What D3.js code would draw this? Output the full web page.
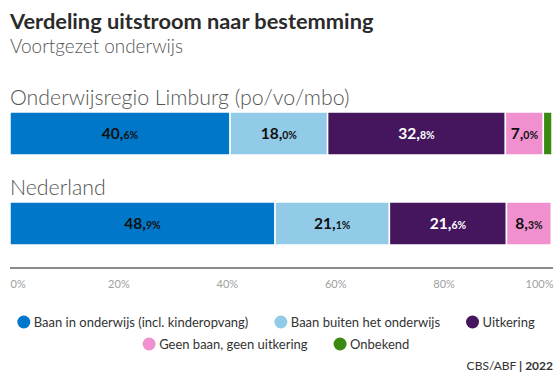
<!DOCTYPE html>
<html>
<head>
<meta charset="utf-8">
<script src="https://cdn.jsdelivr.net/npm/d3@7"></script>
<style>
  html, body { margin: 0; padding: 0; background: #fff; }
  svg { display: block; font-family: Lato, "Open Sans", sans-serif; }
</style>
</head>
<body>
<svg id="chart" width="555" height="373"></svg>
<script>
// Categories (destinations) and their colours
const categories = [
  "Baan in onderwijs (incl. kinderopvang)",
  "Baan buiten het onderwijs",
  "Uitkering",
  "Geen baan, geen uitkering",
  "Onbekend"
];
const colors = ["#0077c8", "#92cbe8", "#45155e", "#f090cf", "#3a8a12"];
const labelColors = ["#111", "#111", "#fff", "#111", "#111"];

// Regions and their shares (%)
const regions = ["Onderwijsregio Limburg (po/vo/mbo)", "Nederland"];
const limburg = [40.6, 18.0, 32.8, 7.0, 1.6];
const nederland = [48.9, 21.1, 21.6, 8.3, 0.1];
const seriesValues = [limburg, nederland];

const tickValues = [0, 20, 40, 60, 80, 100];

const svg = d3.select("#chart");

// Title and subtitle
svg.append("text").attr("x", 10).attr("y", 29)
  .attr("font-size", 21.8).attr("font-weight", 700).attr("fill", "#2b2b2b")
  .text("Verdeling uitstroom naar bestemming");
svg.append("text").attr("x", 10).attr("y", 53)
  .attr("font-size", 18.9).attr("font-weight", 300).attr("fill", "#555")
  .text("Voortgezet onderwijs");

const x = d3.scaleLinear().domain([0, 100]).range([10, 552]);
const barTop = [112, 202];
const barH = 43;

regions.forEach((name, i) => {
  svg.append("text").attr("x", 10).attr("y", barTop[i] - 7)
    .attr("font-size", 21.3).attr("font-weight", 300).attr("fill", "#555")
    .text(name);

  const vals = seriesValues[i];
  const stacked = [];
  let acc = 0;
  vals.forEach((v, k) => { stacked.push({ k, v, x0: acc, x1: acc + v }); acc += v; });

  const g = svg.append("g");
  g.selectAll("rect").data(stacked).join("rect")
    .attr("x", d => x(d.x0))
    .attr("y", barTop[i])
    .attr("width", d => Math.max(0, x(d.x1) - x(d.x0)))
    .attr("height", barH)
    .attr("fill", d => colors[d.k])
    .attr("stroke", "#fff")
    .attr("stroke-width", 1.5);

  const lab = g.selectAll("text").data(stacked.filter(d => d.v >= 5)).join("text")
    .attr("x", d => (x(d.x0) + x(d.x1)) / 2)
    .attr("y", barTop[i] + barH / 2 + 5.5)
    .attr("text-anchor", "middle")
    .attr("font-weight", 700)
    .attr("fill", d => labelColors[d.k]);
  lab.each(function(d) {
    const parts = d.v.toFixed(1).split(".");
    const t = d3.select(this);
    t.append("tspan").attr("font-size", 15.5).text(parts[0] + ",");
    t.append("tspan").attr("font-size", 10.5).text(parts[1] + "%");
  });
});

// Axis
const axisY = 268;
const axis = d3.axisBottom(x).tickValues(tickValues)
  .tickFormat(d => d + "%").tickSize(0).tickPadding(12);
const ax = svg.append("g").attr("transform", `translate(0,${axisY})`).call(axis);
ax.select(".domain").attr("stroke", "#8a8a8a").attr("stroke-width", 2).attr("d", `M10,0H553`);
ax.selectAll(".tick text")
  .attr("font-family", "Lato, sans-serif").attr("font-size", 11)
  .attr("fill", "#a0a0a0")
  .attr("text-anchor", d => d === 0 ? "start" : d === 100 ? "end" : "middle")
  .attr("dx", d => d === 0 ? 0 : d === 100 ? 1 : 0);

// Legend in two centred rows
const legendRows = [[0, 1, 2], [3, 4]];
const legendY = [322, 344];
const r = 6.5, gapDot = 3.5, gapItem = 26, legendCx = 276;
legendRows.forEach((row, ri) => {
  const g = svg.append("g");
  const items = row.map(k => {
    const it = g.append("g");
    it.append("circle").attr("r", r).attr("fill", colors[k]);
    const t = it.append("text").attr("x", r + gapDot).attr("y", 4.5)
      .attr("font-size", 13).attr("fill", "#333").text(categories[k]);
    return { it, w: 2 * r + gapDot + t.node().getComputedTextLength() };
  });
  const total = d3.sum(items, d => d.w) + gapItem * (items.length - 1);
  let cx = legendCx - total / 2;
  items.forEach(d => {
    d.it.attr("transform", `translate(${cx + r},${legendY[ri]})`);
    cx += d.w + gapItem;
  });
});

// Source
const src = svg.append("text").attr("x", 553).attr("y", 370)
  .attr("text-anchor", "end").attr("font-size", 12).attr("fill", "#333");
src.append("tspan").text("CBS/ABF ");
src.append("tspan").attr("font-weight", 700).text("| 2022");
</script>
</body>
</html>
